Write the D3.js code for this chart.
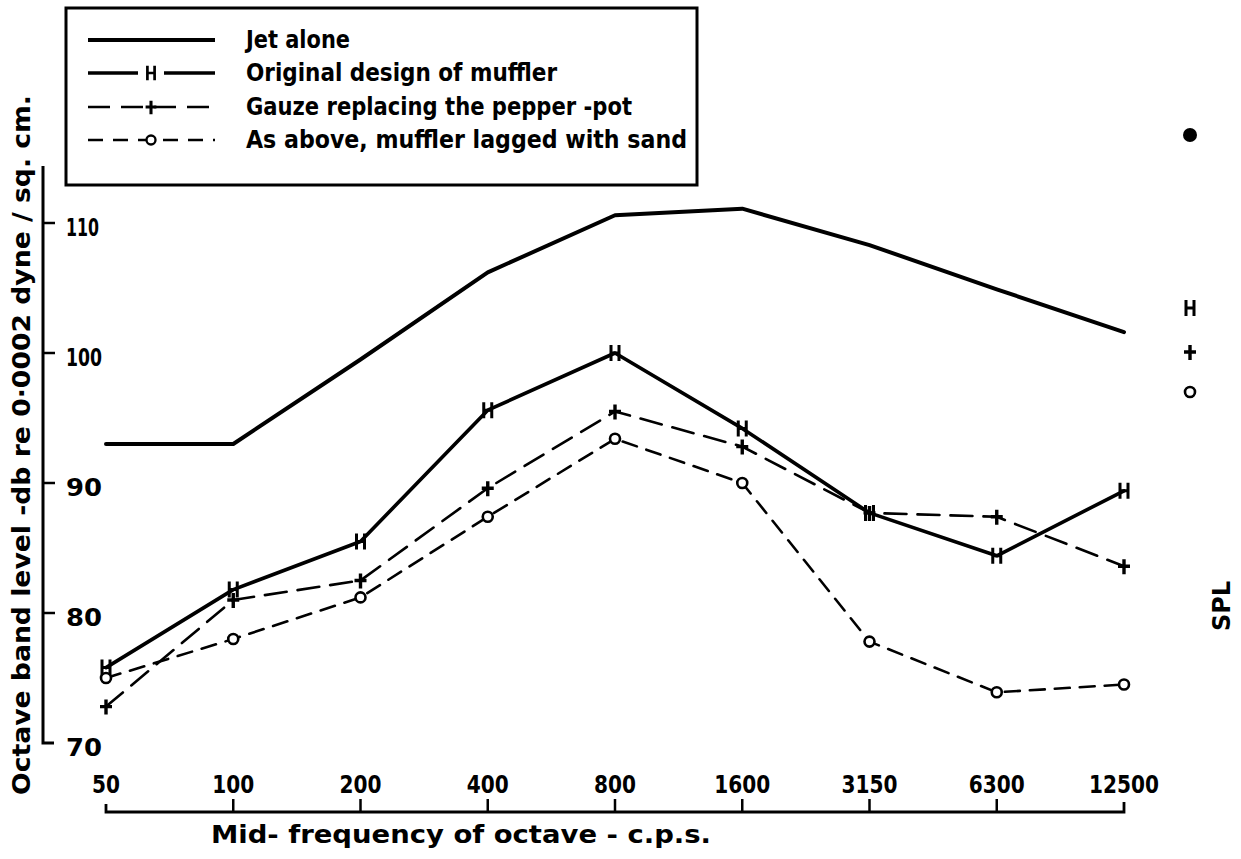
<!DOCTYPE html>
<html>
<head>
<meta charset="utf-8">
<script src="https://cdn.jsdelivr.net/npm/d3@7"></script>
<style>
  body { margin: 0; background: #fff; }
  text { font-family: "DejaVu Sans", sans-serif; font-weight: bold; fill: #000; }
</style>
</head>
<body>
<div id="container"></div>
<script>
/* DATA */
const freqs = ["50", "100", "200", "400", "800", "1600", "3150", "6300", "12500"];
const yTicks = [70, 80, 90, 100, 110];
const jetAlone = [93.0, 93.0, 99.5, 106.2, 110.6, 111.1, 108.3, 104.9, 101.6];
const originalMuffler = [75.8, 81.8, 85.5, 95.6, 100.0, 94.2, 87.7, 84.4, 89.4];
const gauze = [72.8, 81.0, 82.5, 89.6, 95.5, 92.8, 87.7, 87.4, 83.6];
const lagged = [75.0, 78.0, 81.2, 87.4, 93.4, 90.0, 77.8, 73.9, 74.5];
const legendLabels = [
  "Jet alone",
  "Original design of muffler",
  "Gauze replacing the pepper -pot",
  "As above, muffler lagged with sand"
];

/* CONSTANTS */
const width = 1241, height = 859;

const svg = d3.select("#container")
  .append("svg")
  .attr("width", width)
  .attr("height", height);

// SCALES
const x = d3.scalePoint().domain(freqs).range([106, 1124]);
const y = d3.scaleLinear().domain([70, 110]).range([743, 223]);

const series = [
  { key: "jet", values: jetAlone, width: 4, dash: null, marker: null },
  { key: "orig", values: originalMuffler, width: 3.6, dash: null, marker: "H" },
  { key: "gauze", values: gauze, width: 2.6, dash: "22,11", marker: "+" },
  { key: "lag", values: lagged, width: 2.6, dash: "15,10", marker: "o" }
];

// MARKER DRAWING
function drawMarker(g, type, cx, cy, s) {
  s = s || 1;
  if (type === "H") {
    g.append("path")
      .attr("d", `M${cx - 4 * s},${cy - 8 * s}V${cy + 8 * s}M${cx + 4 * s},${cy - 8 * s}V${cy + 8 * s}M${cx - 4 * s},${cy}H${cx + 4 * s}`)
      .attr("stroke", "#000").attr("stroke-width", 3 * s).attr("fill", "none");
  } else if (type === "+") {
    g.append("path")
      .attr("d", `M${cx - 6 * s},${cy}H${cx + 6 * s}M${cx},${cy - 7 * s}V${cy + 8 * s}`)
      .attr("stroke", "#000").attr("stroke-width", 3.4 * s).attr("fill", "none");
  } else if (type === "o") {
    g.append("circle")
      .attr("cx", cx).attr("cy", cy).attr("r", 5 * s)
      .attr("fill", "#fff").attr("stroke", "#000").attr("stroke-width", 2.6 * s);
  } else if (type === "dot") {
    g.append("circle")
      .attr("cx", cx).attr("cy", cy).attr("r", 7 * s).attr("fill", "#000");
  }
}

// Y AXIS
const yAxis = svg.append("g");
yAxis.append("path")
  .attr("d", `M43,166V${y(70)}H54`)
  .attr("stroke", "#000").attr("stroke-width", 3).attr("fill", "none");
yAxis.selectAll("line.tick")
  .data(yTicks.filter(d => d > 70))
  .join("line")
  .attr("x1", 43).attr("x2", 55)
  .attr("y1", d => y(d)).attr("y2", d => y(d))
  .attr("stroke", "#000").attr("stroke-width", 2.5);
yAxis.selectAll("text")
  .data(yTicks)
  .join("text")
  .attr("x", 66)
  .attr("y", d => y(d) + 13)
  .attr("font-size", 24)
  .attr("textLength", d => d === 110 ? 33 : 36)
  .attr("lengthAdjust", "spacingAndGlyphs")
  .text(d => d);

// Y TITLE
svg.append("text")
  .attr("transform", "translate(30,445) rotate(-90)")
  .attr("text-anchor", "middle")
  .attr("font-size", 24)
  .attr("textLength", 700)
  .attr("lengthAdjust", "spacingAndGlyphs")
  .text("Octave band level -db re 0·0002 dyne / sq. cm.");

// X AXIS
const xAxis = svg.append("g");
xAxis.append("path")
  .attr("d", `M${x("50")},804V812H${x("12500")}V802`)
  .attr("stroke", "#000").attr("stroke-width", 2.8).attr("fill", "none");
xAxis.selectAll("line")
  .data(freqs.slice(1, -1))
  .join("line")
  .attr("x1", d => x(d)).attr("x2", d => x(d))
  .attr("y1", 812).attr("y2", 799)
  .attr("stroke", "#000").attr("stroke-width", 2.5);
xAxis.selectAll("text")
  .data(freqs)
  .join("text")
  .attr("x", d => x(d))
  .attr("y", 793)
  .attr("text-anchor", "middle")
  .attr("font-size", 24)
  .attr("textLength", d => d.length * 14)
  .attr("lengthAdjust", "spacingAndGlyphs")
  .text(d => d);

svg.append("text")
  .attr("x", 461).attr("y", 843)
  .attr("text-anchor", "middle")
  .attr("font-size", 24)
  .attr("textLength", 500)
  .attr("lengthAdjust", "spacingAndGlyphs")
  .text("Mid- frequency of octave - c.p.s.");

// LINES
const lineGen = d3.line()
  .x((d, i) => x(freqs[i]))
  .y(d => y(d));

series.forEach(s => {
  svg.append("path")
    .datum(s.values)
    .attr("d", lineGen)
    .attr("fill", "none")
    .attr("stroke", "#000")
    .attr("stroke-width", s.width)
    .attr("stroke-linejoin", "round")
    .attr("stroke-linecap", "round")
    .attr("stroke-dasharray", s.dash);
  if (s.marker) {
    const g = svg.append("g");
    s.values.forEach((v, i) => drawMarker(g, s.marker, x(freqs[i]), y(v)));
  }
});

// LEGEND
const legend = svg.append("g");
legend.append("rect")
  .attr("x", 66).attr("y", 8)
  .attr("width", 631).attr("height", 177)
  .attr("fill", "#fff").attr("stroke", "#000").attr("stroke-width", 3);

const rowY = [40, 73, 107, 140];
const textLens = [104, 311, 386, 441];
legendLabels.forEach((label, i) => {
  const ly = rowY[i];
  const s = series[i];
  // leave a small gap round the H marker, as in the original key
  const segs = s.marker === "H" ? [[88, 138], [164, 215]] : [[88, 215]];
  segs.forEach(([a, b]) => {
    legend.append("line")
      .attr("x1", a).attr("x2", b)
      .attr("y1", ly).attr("y2", ly)
      .attr("stroke", "#000")
      .attr("stroke-width", s.width)
      .attr("stroke-dasharray", s.dash);
  });
  if (s.marker) drawMarker(legend, s.marker, 151, ly, 0.9);
  legend.append("text")
    .attr("x", 246).attr("y", ly + 8)
    .attr("font-size", 24)
    .attr("textLength", textLens[i])
    .attr("lengthAdjust", "spacingAndGlyphs")
    .text(label);
});

// RIGHT SIDE SPL KEY
const key = svg.append("g");
drawMarker(key, "dot", 1190, 135);
drawMarker(key, "H", 1190, 308);
drawMarker(key, "+", 1190, 352);
drawMarker(key, "o", 1190, 392);
svg.append("text")
  .attr("transform", "translate(1230,606) rotate(-90)")
  .attr("text-anchor", "middle")
  .attr("font-size", 24)
  .text("SPL");
</script>
</body>
</html>
